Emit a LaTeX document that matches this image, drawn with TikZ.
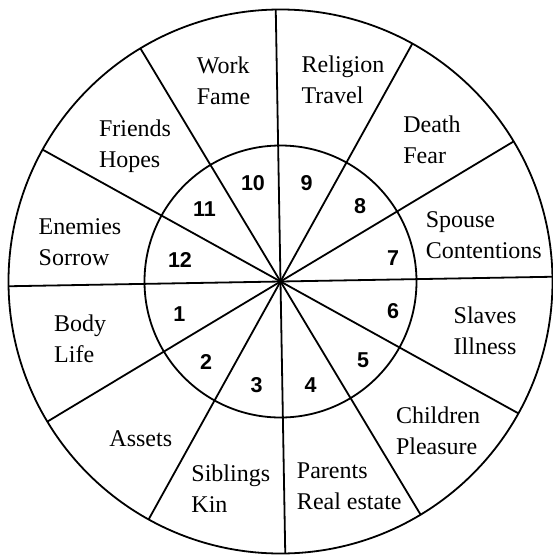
\documentclass[tikz,border=0pt]{standalone}
\usepackage{fontspec}
\setmainfont{Liberation Serif}
\newfontfamily\numfont{Liberation Sans}
\begin{document}
\begin{tikzpicture}[x=1pt,y=-1pt,line width=1.8pt,
  house/.style={font=\fontsize{24}{31}\selectfont,align=left,inner sep=0pt},
  num/.style={font=\numfont\bfseries\fontsize{21.5}{24}\selectfont,inner sep=0pt}]
\useasboundingbox (0,0) rectangle (553,555);
\coordinate (c) at (280.5,281.5);
\draw (c) circle[radius=272];
\draw (c) circle[radius=136];
\foreach \a in {1,31,...,331} \draw (c) -- ++(-\a:272);
% house labels
\node[house] (h10) at (223.5,81) {Work\\Fame};
\node[house] (h11) at (135,146) {Friends\\Hopes};
\node[house] (h12) at (80,241.7) {Enemies\\Sorrow};
\node[house] (h1) at (80.2,339) {Body\\Life};
\node[house] (h2) at (140.8,438.3) {Assets};
\node[house] (h3) at (230.8,488.8) {Siblings\\Kin};
\node[house] (h4) at (349.3,486.7) {Parents\\Real estate};
\node[house] (h5) at (438,430.8) {Children\\Pleasure};
\node[house] (h6) at (485,330.5) {Slaves\\Illness};
\node[house] (h7) at (483.8,235) {Spouse\\Contentions};
\node[house] (h8) at (432,140) {Death\\Fear};
\node[house] (h9) at (343,80) {Religion\\Travel};
% numbers
\node[num] (n10) at (253,183.3) {10};
\node[num] (n9) at (306.7,182.7) {9};
\node[num] (n11) at (204.5,208.8) {11};
\node[num] (n8) at (360.2,206.3) {8};
\node[num] (n12) at (180,260) {12};
\node[num] (n7) at (393,258.3) {7};
\node[num] (n1) at (179.3,314.3) {1};
\node[num] (n6) at (393,311) {6};
\node[num] (n2) at (206,362.3) {2};
\node[num] (n5) at (363,360) {5};
\node[num] (n3) at (256.7,385) {3};
\node[num] (n4) at (310.7,385) {4};
\end{tikzpicture}
\end{document}
